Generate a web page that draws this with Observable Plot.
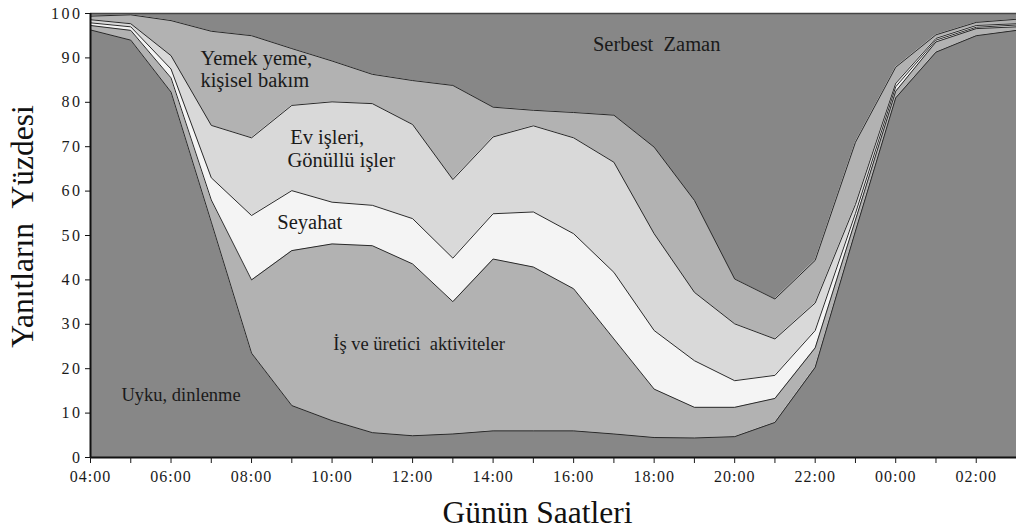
<!DOCTYPE html>
<html>
<head>
<meta charset="utf-8">
<script src="https://cdn.jsdelivr.net/npm/d3@7"></script>
<script src="https://cdn.jsdelivr.net/npm/@observablehq/plot@0.6"></script>
<style>
  body { margin: 0; background: #fff; }
  #chart svg { display: block; font-family: "Liberation Serif", "Times New Roman", serif; }
  #chart svg text { font-family: "Liberation Serif", "Times New Roman", serif !important; white-space: pre; }
  #chart g[aria-label="x-axis tick label"] text { letter-spacing: 1px; }
  #chart g[aria-label="y-axis tick label"] text { letter-spacing: 2.5px; }
</style>
</head>
<body>
<div id="chart"></div>
<script>
// Hour index 0 = 04:00 ... 23 = 03:00
const hours = d3.range(24);
const hourLabels = ["04:00","05:00","06:00","07:00","08:00","09:00","10:00","11:00",
  "12:00","13:00","14:00","15:00","16:00","17:00","18:00","19:00",
  "20:00","21:00","22:00","23:00","00:00","01:00","02:00","03:00"];

const categories = ["Uyku, dinlenme", "İş ve üretici aktiviteler", "Seyahat",
  "Ev işleri, Gönüllü işler", "Yemek yeme, kişisel bakım", "Serbest Zaman"];

// Percentage of respondents per activity, per hour
const uyku    = [96.3,94.0,82.3,53.0,23.5,11.7, 8.3, 5.6, 4.9, 5.3, 6.0, 6.0, 6.0, 5.3, 4.5, 4.4, 4.7, 7.9,20.3,51.0,81.0,91.3,95.0,96.2];
const isUret  = [ 1.0, 2.2, 3.2, 5.0,16.5,34.9,39.8,42.1,38.7,29.8,38.7,36.9,32.0,21.4,10.9, 6.9, 6.6, 5.4, 4.4, 2.5, 1.5, 2.3, 1.6, 0.8];
const seyahat = [ 0.6, 0.8, 2.0, 5.0,14.5,13.5, 9.4, 9.1,10.2, 9.8,10.2,12.4,12.4,15.0,13.2,10.5, 6.0, 5.2, 3.9, 1.5, 1.0, 0.4, 0.3, 0.4];
const evIsleri= [ 0.7, 0.7, 3.0,11.8,17.5,19.2,22.6,22.9,21.2,17.7,17.3,19.4,21.6,24.8,21.8,15.4,12.8, 8.2, 6.2, 2.0, 0.8, 0.4, 0.4, 0.3];
const yemek   = [ 0.8, 2.0, 7.9,21.2,23.0,12.8, 9.2, 6.6, 9.9,21.2, 6.7, 3.5, 5.7,10.6,19.5,20.7,10.1, 9.0, 9.6,14.0, 3.6, 0.8, 0.7, 1.0];
const serbest = [ 0.6, 0.3, 1.6, 4.0, 5.0, 7.9,10.7,13.7,15.1,16.2,21.1,21.8,22.3,22.9,30.1,42.1,59.8,64.3,55.6,29.0,12.1, 4.8, 2.0, 1.3];

const series = [uyku, isUret, seyahat, evIsleri, yemek, serbest];
const colors = ["#878787", "#b2b2b2", "#f4f4f4", "#d9d9d9", "#b2b2b2", "#878787"];

const table = hours.flatMap((h, i) => series.map((s, k) => ({hour: h, cat: categories[k], value: s[i]})));

// In-chart annotation labels (anchored in data units)
const annoBig = [
  {text: "Yemek yeme,", hour: 2.73, value: 89.9},
  {text: "kişisel bakım", hour: 2.73, value: 85.0},
  {text: "Serbest  Zaman", hour: 12.48, value: 93.1},
  {text: "Ev işleri,", hour: 4.96, value: 72.1},
  {text: "Gönüllü işler", hour: 4.89, value: 66.9},
  {text: "Seyahat", hour: 4.64, value: 52.9}
];
const annoSmall = [
  {text: "İş ve üretici  aktiviteler", hour: 6.03, value: 25.6},
  {text: "Uyku, dinlenme", hour: 0.77, value: 14.1}
];

const xTitle = "Günün Saatleri";
const yTitle = "Yanıtların  Yüzdesi";

const chart = Plot.plot({
  width: 1016,
  height: 530,
  marginLeft: 90,
  marginRight: 0,
  marginTop: 13,
  marginBottom: 73,
  style: {fontFamily: "'Liberation Serif', 'Times New Roman', serif", background: "#fff", overflow: "visible", color: "#1a1a1a"},
  x: {domain: [0, 23]},
  y: {domain: [0, 100]},
  color: {domain: categories, range: colors},
  marks: [
    Plot.areaY(table, {x: "hour", y: "value", z: "cat", fill: "cat", order: categories}),
    Plot.lineY(table.filter(d => d.cat !== categories[5]),
      Plot.stackY2({x: "hour", y: "value", z: "cat", order: categories, stroke: "#2a2a2a", strokeWidth: 1})),
    Plot.ruleY([100], {stroke: "#444", strokeWidth: 1.5}),
    Plot.ruleY([0], {stroke: "#111", strokeWidth: 2}),
    Plot.ruleX([0], {stroke: "#111", strokeWidth: 2}),
    Plot.axisY({ticks: d3.range(0, 101, 10), tickSize: 5, tickPadding: 3, fontSize: 16, label: null, stroke: "#111"}),
    Plot.axisX({ticks: d3.range(0, 23), tickSize: 6, tickPadding: 7, fontSize: 16, label: null,
      tickFormat: d => d % 2 === 0 ? hourLabels[d] : ""}),
    Plot.text(annoBig, {x: "hour", y: "value", text: "text", textAnchor: "start", lineAnchor: "middle", fontSize: 20.5, fill: "#1a1a1a"}),
    Plot.text(annoSmall, {x: "hour", y: "value", text: "text", textAnchor: "start", lineAnchor: "middle", fontSize: 18.5, fill: "#1a1a1a"}),
    Plot.text([xTitle], {frameAnchor: "bottom", dx: -16, dy: 55, text: d => d, fontSize: 31.5, textAnchor: "middle", lineAnchor: "middle", fill: "#111"}),
    Plot.text([yTitle], {frameAnchor: "left", dx: -68, dy: -9, rotate: -90, text: d => d, fontSize: 31.5, textAnchor: "middle", lineAnchor: "middle", fill: "#111"})
  ]
});
document.getElementById("chart").append(chart);
</script>
</body>
</html>
